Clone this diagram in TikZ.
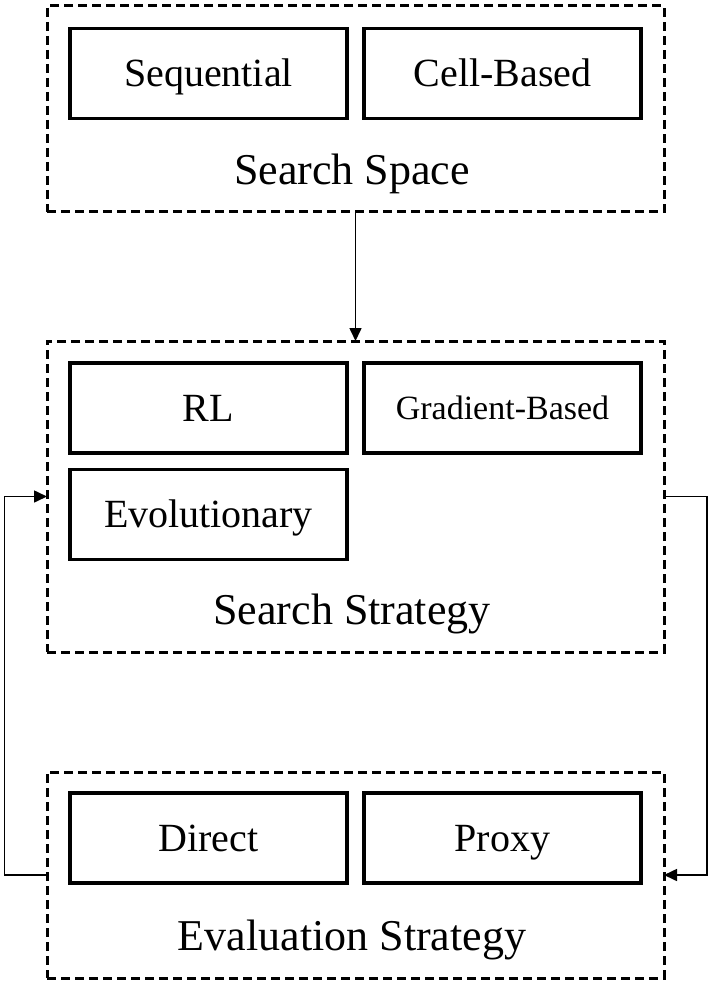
\documentclass[tikz,border=0pt]{standalone}
\usepackage{fontspec}
\setmainfont{Liberation Serif}
\usetikzlibrary{arrows.meta}

\begin{document}
\begin{tikzpicture}[
      x=0.5pt, y=-0.5pt,%
      thin,%
      groupbox/.style={draw, line width=1.5pt, dash pattern=on 4.5pt off 2.5pt,
                       minimum width=308.5pt, inner sep=0pt, outer sep=0pt},%
      methodbox/.style={draw, line width=1.6pt, minimum width=138.5pt,
                        minimum height=45pt, inner sep=0pt, outer sep=0pt,
                        font=\fontsize{20}{24}\selectfont,
                        text height=13pt, text depth=0pt},%
      grouptitle/.style={anchor=base, inner sep=0pt,
                         font=\fontsize{22}{26}\selectfont},%
      flow/.style={line width=0.8pt, -{Triangle[length=6.5pt,width=6pt]}}%
    ]
    \useasboundingbox (0,0) rectangle (709,984);

    %% Group frames
    \node[groupbox, minimum height=103pt]   (space) at (355.5,109)   {};
    \node[groupbox, minimum height=155.5pt] (strat) at (355.5,496.5) {};
    \node[groupbox, minimum height=103pt]   (eval)  at (355.5,875)   {};

    %% Search space
    \node[methodbox] (seq)  at (208.5,73.5) {Sequential};
    \node[methodbox] (cell) at (502.5,73.5) {Cell-Based};
    \node[grouptitle] (spacetitle) at (352,185) {Search Space};

    %% Search strategy
    \node[methodbox] (rl)   at (208.5,408) {RL};
    \node[methodbox, font=\fontsize{17}{20}\selectfont, text height=11pt]
                     (grad) at (502.5,408) {Gradient-Based};
    \node[methodbox] (evo)  at (208.5,514.5) {Evolutionary};
    \node[grouptitle] (strattitle) at (352,624) {Search Strategy};

    %% Evaluation strategy
    \node[methodbox] (direct) at (208.5,838) {Direct};
    \node[methodbox] (proxy)  at (502.5,838) {Proxy};
    \node[grouptitle] (evaltitle) at (352,950) {Evaluation Strategy};

    %% Connectors
    \draw[flow] (space.south) -- (strat.north);
    \draw[flow] (strat.east) -- ++(21.5pt,0) |- (eval.east);
    \draw[flow] (eval.west) -- ++(-21.25pt,0) |- (strat.west);
  \end{tikzpicture}
\end{document}
